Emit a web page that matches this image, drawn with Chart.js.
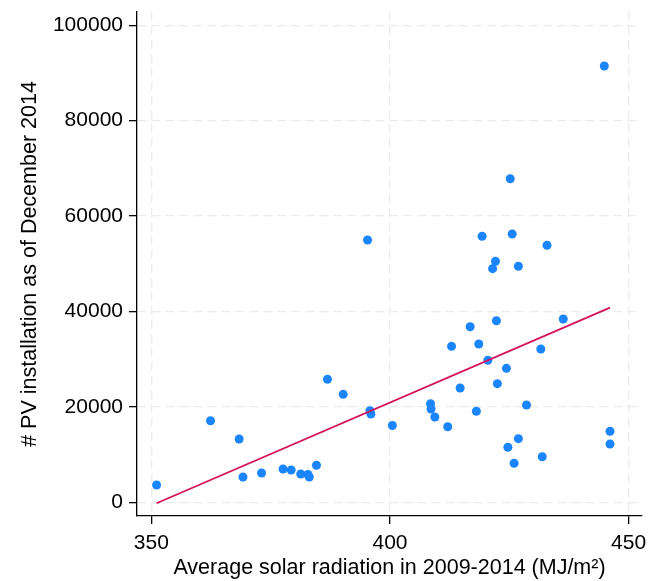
<!DOCTYPE html>
<html>
<head>
<meta charset="utf-8">
<script src="https://cdn.jsdelivr.net/npm/chart.js@4.4.1/dist/chart.umd.min.js"></script>
<style>
  html, body { margin: 0; padding: 0; background: #fff; }
  #wrap { width: 648px; height: 581px; }
</style>
</head>
<body>
<div id="wrap"><canvas id="pvChart" width="648" height="581"></canvas></div>
<script>
const radiation = [351.1, 362.4, 368.4, 369.2, 373.1, 377.6, 379.3, 381.3, 382.8, 383.1, 384.6, 386.9, 390.2, 395.3, 395.8, 396.0,
  400.5, 408.5, 408.6, 409.4, 412.1, 412.9, 414.7, 416.8, 418.1, 418.6, 419.3, 420.5, 421.5, 422.1, 422.3, 422.5,
  424.4, 424.7, 425.2, 425.6, 426.0, 426.9, 426.9, 428.6, 431.6, 431.9, 432.9, 436.3, 444.9, 446.1, 446.1];
const installations = [3630, 17100, 13270, 5300, 6140, 6980, 6770, 5930, 5830, 5300, 7760, 25790, 22640, 54990, 19200, 18510,
  16100, 20670, 19560, 17880, 15850, 32700, 23960, 36810, 19080, 33190, 55770, 29770, 48980, 50520, 38070, 24870,
  28090, 11530, 67840, 56250, 8180, 49480, 13340, 20400, 32140, 9560, 53880, 38430, 91470, 14880, 12220];
const fitX = [351.1, 446.1];
const fitY = [-200, 40800];
const xTicks = [350, 400, 450];
const yTicks = [0, 20000, 40000, 60000, 80000, 100000];

const fontFamily = "'Liberation Sans', Arial, Helvetica, sans-serif";
const gridStyle = { color: "#ebebeb", lineWidth: 1.3, tickColor: "#000", tickLength: 8, tickWidth: 1.3 };
const borderStyle = { color: "#000", width: 1.3, dash: [9, 5] };

// drop the label overhang padding so the layout padding alone sets the plot box
function noOverhang(axis) {
  axis.paddingTop = 0;
  axis.paddingBottom = 0;
  axis.paddingLeft = 0;
  axis.paddingRight = 0;
}

new Chart(document.getElementById("pvChart").getContext("2d"), {
  type: "scatter",
  data: {
    datasets: [
      {
        label: "Fitted values",
        data: fitX.map((x, i) => ({ x: x, y: fitY[i] })),
        showLine: true,
        borderColor: "rgb(212, 17, 89)",
        borderWidth: 1.8,
        pointRadius: 0,
        fill: false,
      },
      {
        label: "# PV installation",
        data: radiation.map((x, i) => ({ x: x, y: installations[i] })),
        backgroundColor: "rgb(26, 133, 255)",
        borderWidth: 0,
        pointRadius: 4.5,
      },
    ],
  },
  options: {
    responsive: false,
    animation: false,
    layout: { padding: { top: 12, right: 6, left: 0, bottom: 0 } },
    plugins: { legend: { display: false }, tooltip: { enabled: false } },
    scales: {
      x: {
        type: "linear",
        min: 347.0,
        max: 452.8,
        afterBuildTicks: (axis) => { axis.ticks = xTicks.map((v) => ({ value: v })); },
        afterFit: (axis) => { axis.height = 65; noOverhang(axis); },
        grid: gridStyle,
        border: borderStyle,
        ticks: { color: "#000", padding: 7, font: { family: fontFamily, size: 21 }, callback: (v) => String(v) },
        title: {
          display: true,
          text: "Average solar radiation in 2009-2014 (MJ/m²)",
          color: "#000",
          font: { family: fontFamily, size: 21.5 },
          padding: { top: 0, bottom: 0 },
        },
      },
      y: {
        type: "linear",
        min: -2872,
        max: 102788,
        afterBuildTicks: (axis) => { axis.ticks = yTicks.map((v) => ({ value: v })); },
        afterFit: (axis) => { axis.width = 137; noOverhang(axis); },
        grid: gridStyle,
        border: borderStyle,
        ticks: { color: "#000", padding: 6, font: { family: fontFamily, size: 21 }, callback: (v) => String(v) },
        title: {
          display: true,
          text: "# PV installation as of December 2014",
          color: "#000",
          font: { family: fontFamily, size: 21.5 },
          padding: { top: 17, bottom: 0 },
        },
      },
    },
  },
});
</script>
</body>
</html>
